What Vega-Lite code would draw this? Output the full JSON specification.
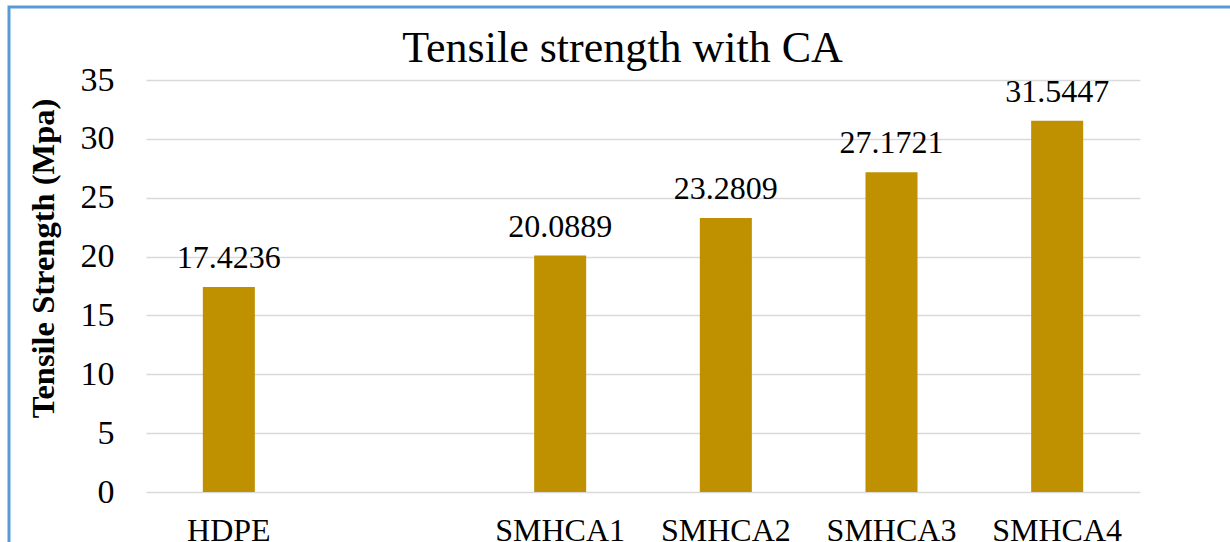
{
  "$schema": "https://vega.github.io/schema/vega-lite/v6.json",
  "autosize": {"type": "none"},
  "padding": {"left": 9, "top": 7, "right": -20, "bottom": -20},
  "width": 1241,
  "height": 555,
  "background": "white",
  "config": {
    "view": {"stroke": "#5b9bd5", "strokeWidth": 3},
    "font": "Liberation Serif"
  },
  "title": {
    "text": "Tensile strength with CA",
    "font": "Liberation Serif",
    "fontSize": 44,
    "fontWeight": "normal",
    "color": "#000000",
    "anchor": "middle",
    "frame": "group",
    "baseline": "alphabetic",
    "offset": 0,
    "dx": -7,
    "dy": 99
  },
  "data": {
    "values": [
      {"sample": "HDPE", "strength": 17.4236},
      {"sample": "SMHCA1", "strength": 20.0889},
      {"sample": "SMHCA2", "strength": 23.2809},
      {"sample": "SMHCA3", "strength": 27.1721},
      {"sample": "SMHCA4", "strength": 31.5447}
    ]
  },
  "encoding": {
    "x": {
      "field": "sample",
      "type": "nominal",
      "sort": null,
      "scale": {
        "domain": ["HDPE", " ", "SMHCA1", "SMHCA2", "SMHCA3", "SMHCA4"],
        "range": [137, 1131],
        "paddingInner": 0.686,
        "paddingOuter": 0.343
      },
      "axis": {
        "title": null,
        "orient": "bottom",
        "offset": -70,
        "domain": false,
        "ticks": false,
        "tickSize": 0,
        "grid": false,
        "labelAngle": 0,
        "labelFont": "Liberation Serif",
        "labelFontSize": 32,
        "labelColor": "#000000",
        "labelPadding": 23,
        "labelBaseline": "top"
      }
    },
    "y": {
      "field": "strength",
      "type": "quantitative",
      "scale": {"domain": [0, 35], "range": [485, 73], "nice": false, "zero": true},
      "axis": {
        "title": "Tensile Strength (Mpa)",
        "titleFont": "Liberation Serif",
        "titleFontSize": 32.5,
        "titleFontWeight": "bold",
        "titleColor": "#000000",
        "titleAngle": -90,
        "titleAlign": "center",
        "titleBaseline": "alphabetic",
        "titleX": -93,
        "titleY": 251,
        "orient": "left",
        "offset": -137,
        "values": [0, 5, 10, 15, 20, 25, 30, 35],
        "domain": false,
        "ticks": false,
        "tickSize": 0,
        "grid": true,
        "gridColor": "#d9d9d9",
        "gridWidth": 1.3,
        "labelFont": "Liberation Serif",
        "labelFontSize": 34,
        "labelColor": "#000000",
        "labelPadding": 32,
        "labelBaseline": "middle"
      }
    }
  },
  "layer": [
    {"mark": {"type": "bar", "color": "#bf9000"}},
    {
      "mark": {
        "type": "text",
        "font": "Liberation Serif",
        "fontSize": 32,
        "color": "#000000",
        "baseline": "alphabetic",
        "dy": -19
      },
      "encoding": {"text": {"field": "strength", "type": "quantitative", "format": ".4f"}}
    }
  ]
}
